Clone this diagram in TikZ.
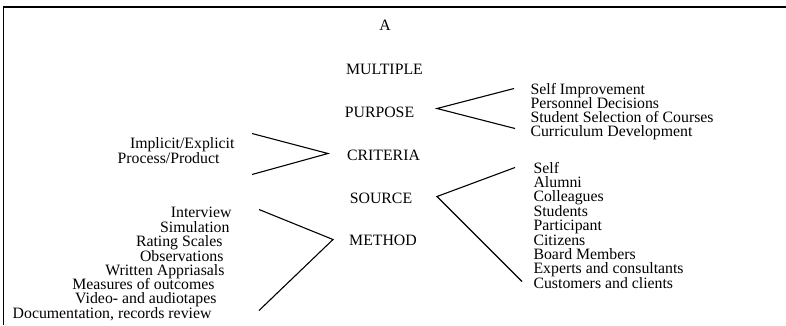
\documentclass[tikz,border=0pt]{standalone}
\usepackage{fontspec}
\setmainfont{Liberation Serif}
\begin{document}
\begin{tikzpicture}[x=1pt,y=-1pt,line width=1.1pt,
    every node/.style={inner sep=0pt,text height=10.2pt,text depth=3.1pt,
        yshift=-1.5pt,font=\fontsize{15.8}{14.4}\selectfont}]
    \useasboundingbox (0,0) rectangle (786,325);
    \draw[line width=1.6pt] (3,7) -- (786,7);
    \draw[line width=1pt] (3.5,7) -- (3.5,325);
    % headings
    \node (A) at (385,25) {A};
    \node (multiple) at (384.5,69) {MULTIPLE};
    \node (purpose) at (379.5,112) {PURPOSE};
    \node (criteria) at (383.5,155) {CRITERIA};
    \node (source) at (381,198) {SOURCE};
    \node (method) at (383,240) {METHOD};
    % purpose
    \coordinate (pa) at (437,107);
    \coordinate (pt) at (514,87);
    \coordinate (pb) at (515,127);
    \draw (pt) -- (pa) -- (pb);
    \foreach \t [count=\i from 0] in {Self Improvement,Personnel Decisions,
        Student Selection of Courses,Curriculum Development}
        \node[anchor=west] (purpose\i) at (530,89+14.3*\i) {\t};
    % criteria
    \coordinate (ca) at (328,152);
    \coordinate (ct) at (252,132);
    \coordinate (cb) at (252,173);
    \draw (ct) -- (ca) -- (cb);
    \node[anchor=east] (crit1) at (235,143) {Implicit/Explicit};
    \node[anchor=east] (crit2) at (220,158) {Process/Product};
    % source
    \coordinate (sa) at (437,195);
    \coordinate (st) at (515,166);
    \coordinate (sb) at (522,280);
    \draw (st) -- (sa) -- (sb);
    \foreach \t [count=\i from 0] in {Self,Alumni,Colleagues,Students,Participant,
        Citizens,Board Members,Experts and consultants,Customers and clients}
        \node[anchor=west] (source\i) at (533,168+14.4*\i) {\t};
    % method
    \coordinate (ma) at (333,238);
    \coordinate (mt) at (259,208);
    \coordinate (mb) at (259,309);
    \draw (mt) -- (ma) -- (mb);
    \foreach \x/\y/\t [count=\i] in {232/212/Interview,230/227/Simulation,
        223/241.5/Rating Scales,224/256/Observations,225/270.3/Written Appriasals,
        215/284.6/Measures of outcomes,217/298.9/Video- and audiotapes,
        212/313.2/{Documentation, records review}}
        \node[anchor=east] (method\i) at (\x,\y) {\t};
\end{tikzpicture}
\end{document}
